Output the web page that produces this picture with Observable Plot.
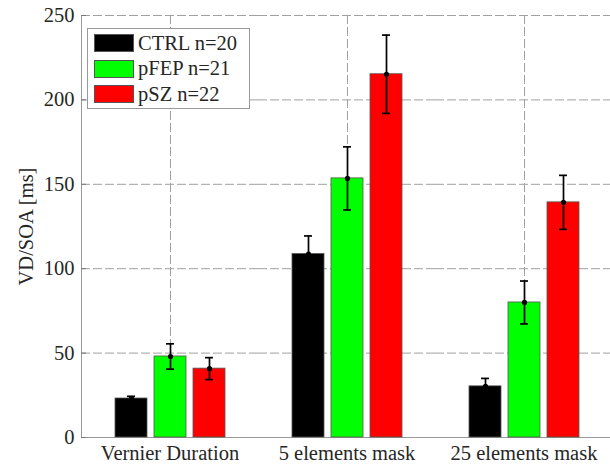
<!DOCTYPE html>
<html>
<head>
<meta charset="utf-8">
<script src="https://cdn.jsdelivr.net/npm/d3@7"></script>
<script src="https://cdn.jsdelivr.net/npm/@observablehq/plot@0.6"></script>
<style>
  html, body { margin: 0; padding: 0; background: #fff; }
  #wrap { position: relative; width: 610px; height: 466px; font-family: "Liberation Serif", "Times New Roman", serif; }
  #wrap svg, #wrap svg text { font-family: "Liberation Serif", "Times New Roman", serif !important; }
  #legend { position: absolute; left: 87px; top: 28px; width: 163px; height: 81px; border: 1px solid #999; background: #fff; box-sizing: border-box; }
  .item { position: absolute; left: 6px; height: 20px; display: flex; align-items: center; font-size: 20.5px; color: #262626; white-space: nowrap; font-family: "Liberation Serif", "Times New Roman", serif; }
  .sw { width: 40px; height: 18px; border: 1px solid #555; box-sizing: border-box; margin-right: 4px; }
</style>
</head>
<body>
<div id="wrap"></div>
<script>
const categories = ["Vernier Duration", "5 elements mask", "25 elements mask"];
const groups = ["CTRL", "pFEP", "pSZ"];
const groupLabels = ["CTRL n=20", "pFEP n=21", "pSZ n=22"];
const colors = ["#000000", "#00ff00", "#ff0000"];
const means = {
  CTRL: [23.1, 108.7, 30.3],
  pFEP: [48.0, 153.5, 80.0],
  pSZ:  [40.8, 215.2, 139.3]
};
const errors = {
  CTRL: [1.3, 10.7, 4.7],
  pFEP: [7.5, 18.7, 12.7],
  pSZ:  [6.5, 23.2, 16.0]
};
const yTicks = [0, 50, 100, 150, 200, 250];

const data = [];
categories.forEach((c, i) => groups.forEach(g => {
  data.push({cat: c, group: g, value: means[g][i], lo: means[g][i] - errors[g][i], hi: means[g][i] + errors[g][i]});
}));

const gridStyle = {stroke: "#a0a0a0", strokeOpacity: 1, strokeDasharray: "9,3", strokeWidth: 1};

const chart = Plot.plot({
  width: 610,
  height: 466,
  marginLeft: 80,
  marginRight: -3,
  marginTop: 15,
  marginBottom: 29,
  style: {fontFamily: "'Liberation Serif', 'Times New Roman', serif", color: "#262626", background: "#fff"},
  fx: {domain: categories, padding: 0, label: null, axis: null},
  x: {domain: groups, paddingInner: 0.19, paddingOuter: 0.848, axis: null},
  y: {domain: [0, 250], label: null},
  color: {domain: groups, range: colors},
  marks: [
    Plot.gridY(yTicks.filter(d => d > 0), gridStyle),
    Plot.ruleX(data.filter(d => d.group === "pFEP"), {fx: "cat", x: "group", ...gridStyle}),
    Plot.ruleY([0], {stroke: "#999", strokeWidth: 1}),
    Plot.frame({anchor: "left", facetAnchor: "left", stroke: "#999", strokeWidth: 1}),
    Plot.axisY({ticks: yTicks, tickSize: -5, text: null, label: null, facetAnchor: "left", stroke: "#777", strokeOpacity: 1}),
    Plot.axisY({ticks: yTicks, tickSize: 0, tickPadding: 7, fontSize: 20.5, facetAnchor: "left",
      label: "VD/SOA [ms]", labelAnchor: "center", labelArrow: "none", labelOffset: 63}),
    Plot.axisFx({anchor: "bottom", tickSize: 0, tickPadding: 8, fontSize: 20.5, label: null}),
    Plot.barY(data, {fx: "cat", x: "group", y: "value", fill: "group", stroke: "#555", strokeWidth: 0.8}),
    Plot.ruleX(data, {fx: "cat", x: "group", y1: "lo", y2: "hi", stroke: "#000", strokeWidth: 1.7}),
    Plot.tickY(data, {fx: "cat", x: "group", y: "lo", stroke: "#000", strokeWidth: 1.7, insetLeft: 12, insetRight: 12}),
    Plot.tickY(data, {fx: "cat", x: "group", y: "hi", stroke: "#000", strokeWidth: 1.7, insetLeft: 12, insetRight: 12}),
    Plot.dot(data, {fx: "cat", x: "group", y: "value", r: 2.6, fill: "#000", stroke: "none"})
  ]
});

const wrap = document.getElementById("wrap");
wrap.appendChild(chart);

const legend = document.createElement("div");
legend.id = "legend";
groups.forEach((g, i) => {
  const it = document.createElement("div");
  it.className = "item";
  it.style.top = (4 + i * 25.5) + "px";
  const sw = document.createElement("div");
  sw.className = "sw";
  sw.style.background = colors[i];
  it.appendChild(sw);
  it.appendChild(document.createTextNode(groupLabels[i]));
  legend.appendChild(it);
});
wrap.appendChild(legend);
</script>
</body>
</html>
